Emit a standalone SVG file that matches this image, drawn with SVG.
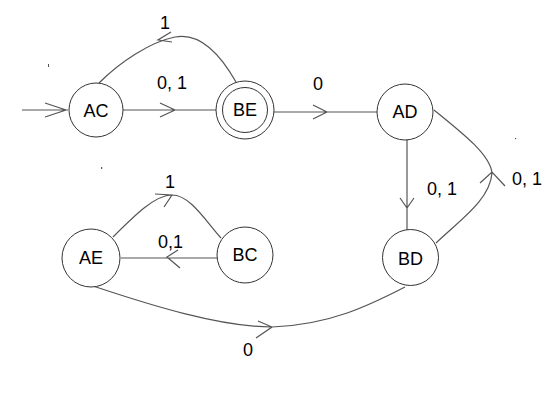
<svg xmlns="http://www.w3.org/2000/svg" width="560" height="407" viewBox="0 0 560 407">
<style>
.n{fill:#fff;stroke:#333;stroke-width:1}
.e{fill:none;stroke:#555;stroke-width:1.2}
.t{font-family:"Liberation Sans",Arial,sans-serif;font-size:18px;fill:#000;text-anchor:middle}
.l{font-family:"Liberation Sans",Arial,sans-serif;font-size:18px;fill:#000}
</style>
<rect width="560" height="407" fill="#fff"/>
<g id="connectors">
<path class="e" d="M22 110 H68 M45 103 L66 110 L45 117"/>
<path class="e" d="M123 110 H216 M160 103 L175 110 L160 117"/>
<path class="e" d="M236 82 C215 45 195 33 175 37 C150 42 120 62 99 83 M171 32 L158 40 L172 42"/>
<path class="e" d="M274 112 H377 M313 105 L327 112 L313 119"/>
<path class="e" d="M407 140 V230 M400 198 L407 208 L414 198"/>
<path class="e" d="M434 110 C465 135 490 155 492 173 C490 200 460 220 436 243 M480 183 L492 172 L505 186"/>
<path class="e" d="M113 237 C135 215 155 195 172 195 C190 195 205 220 221 238 M155 194 L172 195 L164 207"/>
<path class="e" d="M121 258 H217 M178 250 L167 257 L180 268"/>
<path class="e" d="M93 286 C150 305 220 327 272 327 C330 325 370 305 405 287 M258 321 L272 327 L256 338"/>
</g>
<g id="labels">
<text class="l" x="157" y="89">0, 1</text>
<text class="l" x="160" y="29">1</text>
<text class="l" x="313" y="90">0</text>
<text class="l" x="427" y="195">0, 1</text>
<text class="l" x="512" y="185">0, 1</text>
<text class="l" x="165" y="188">1</text>
<text class="l" x="158" y="248">0,1</text>
<text class="l" x="243" y="356">0</text>
</g>
<g id="marks" fill="#555">
<rect x="48" y="64" width="1" height="3"/>
<rect x="101" y="167" width="1.2" height="2"/>
<rect x="515" y="138" width="1.2" height="1.2"/>
</g>
<g id="AC"><circle class="n" cx="96" cy="110" r="27"/><text class="t" x="96" y="117">AC</text></g>
<g id="BE"><circle class="n" cx="245" cy="110" r="29"/><circle class="n" cx="245" cy="110" r="22.5"/><text class="t" x="245" y="116">BE</text></g>
<g id="AD"><circle class="n" cx="405" cy="112" r="28"/><text class="t" x="405" y="118">AD</text></g>
<g id="BD"><circle class="n" cx="410.5" cy="257.5" r="28"/><text class="t" x="410.5" y="265">BD</text></g>
<g id="AE"><circle class="n" cx="91" cy="258" r="29"/><text class="t" x="91" y="264">AE</text></g>
<g id="BC"><circle class="n" cx="245" cy="255" r="28"/><text class="t" x="245" y="261">BC</text></g>
</svg>
